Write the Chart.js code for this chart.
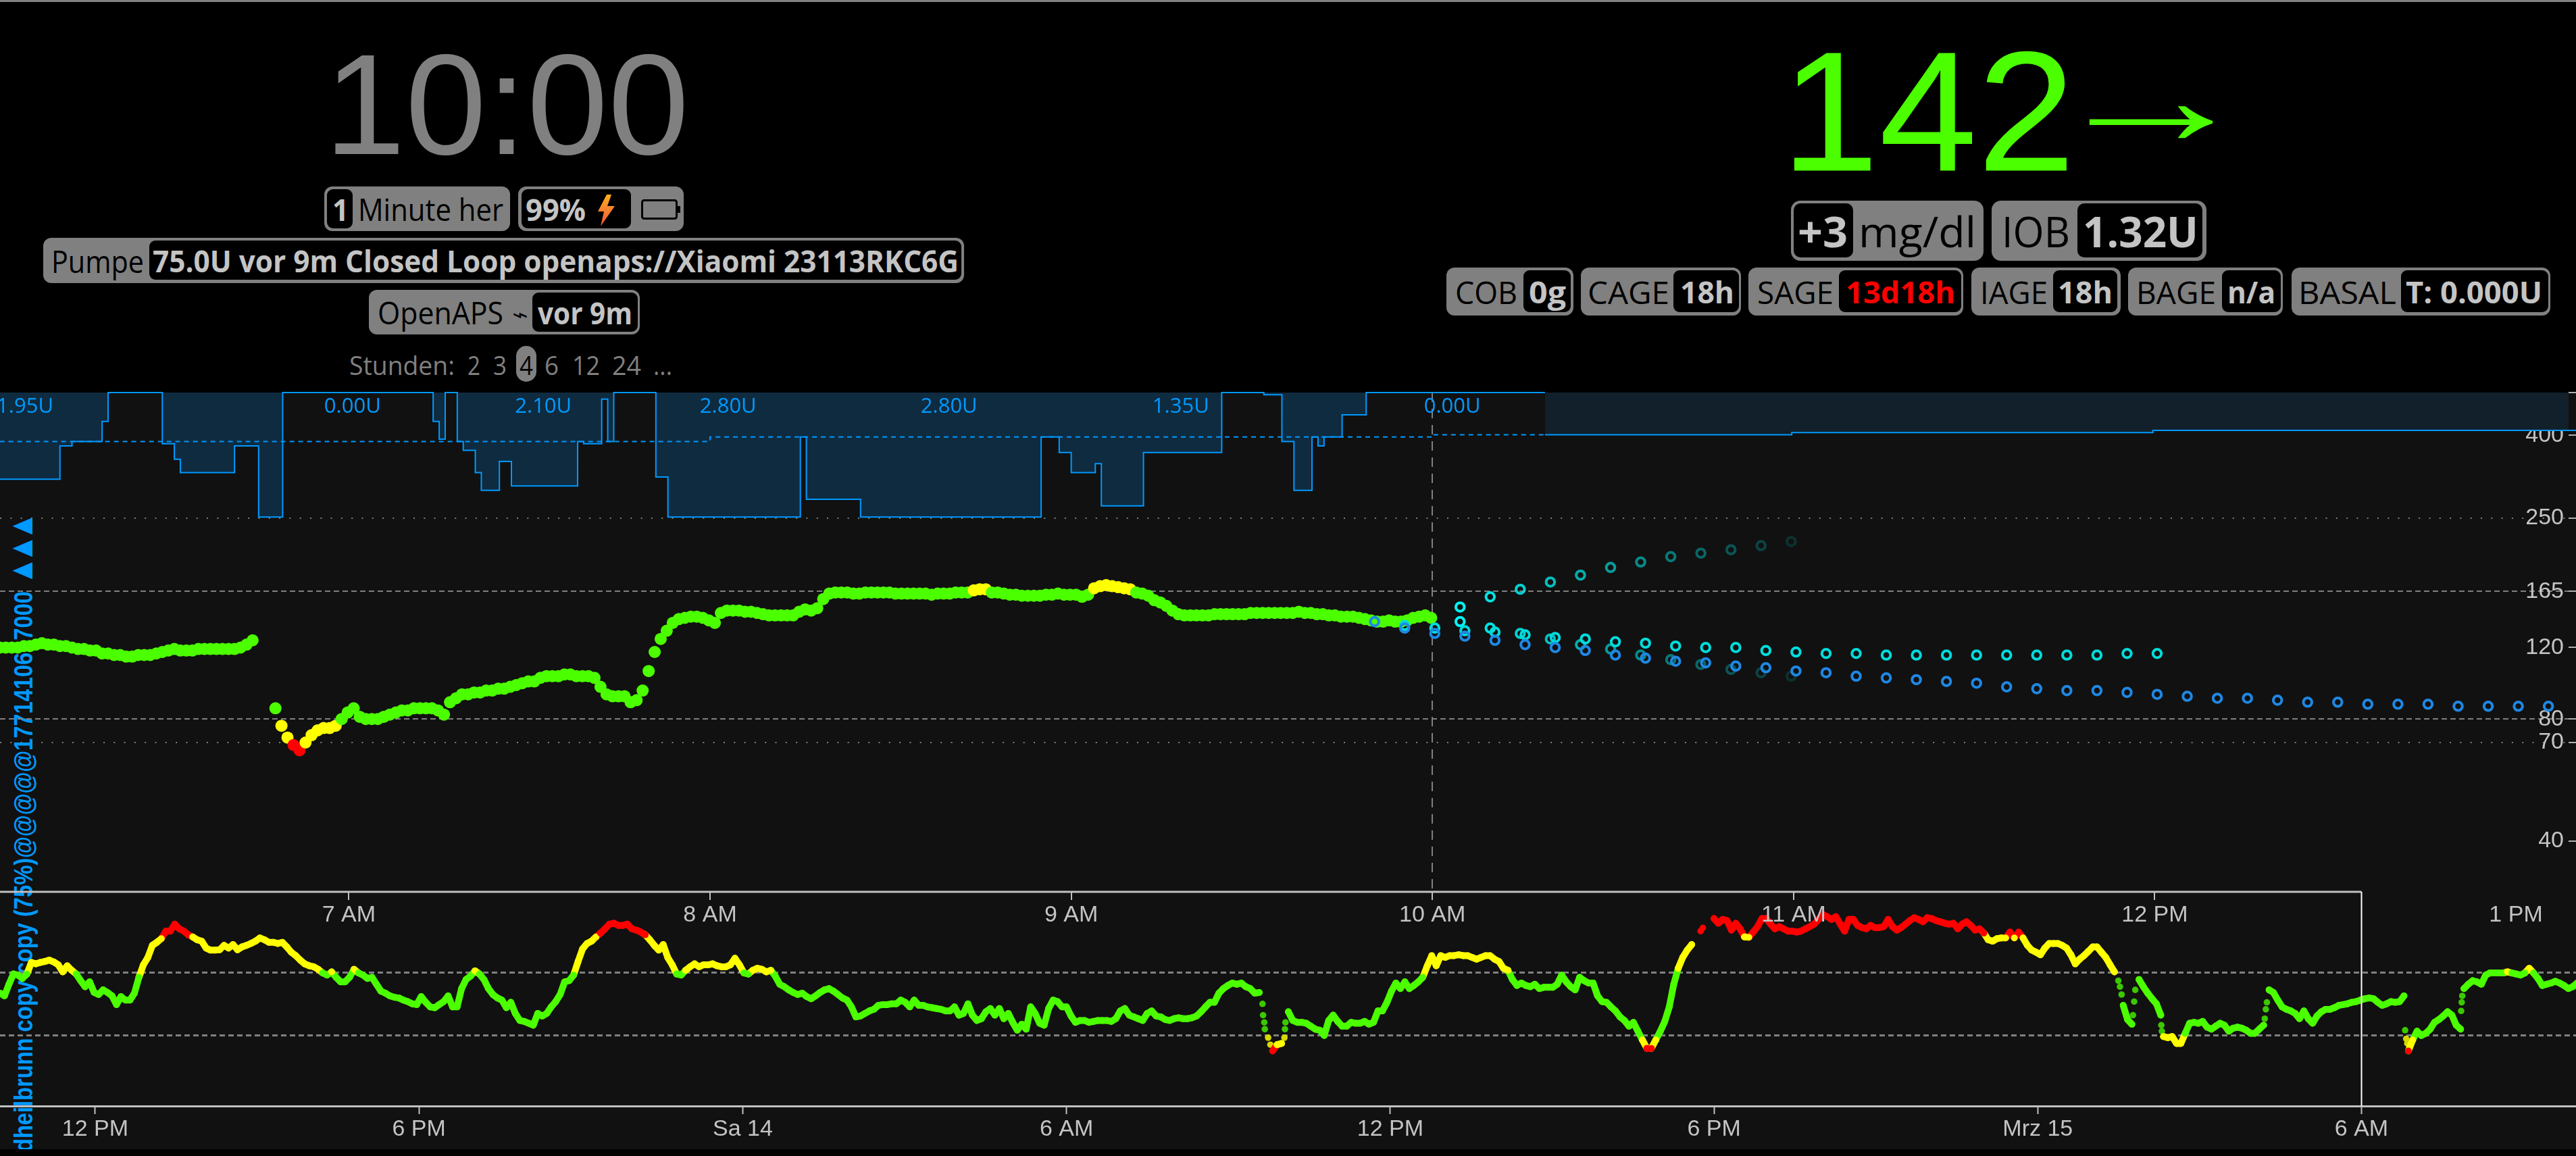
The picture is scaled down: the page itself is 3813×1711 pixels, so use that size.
<!DOCTYPE html>
<html><head><meta charset="utf-8">
<script src="https://cdn.jsdelivr.net/npm/chart.js@4"></script>
<style>
html,body{margin:0;padding:0;background:#000;width:3813px;height:1711px;overflow:hidden}
#topbar{position:absolute;left:0;top:0;width:3813px;height:3px;background:#808080}
#panel{position:absolute;left:0;top:581px;width:3813px;height:1120px;background:#111;overflow:hidden}
#vtext{position:absolute;left:0;top:0;white-space:pre;font:bold 38px "Liberation Sans";color:#0099ff;line-height:1}
#vtri{font-size:50px;line-height:0}
canvas{position:absolute;left:0}
.b{position:absolute;box-sizing:border-box}
.t{position:absolute;white-space:nowrap;line-height:1;transform-origin:left center}
</style></head><body>
<div id="topbar"></div>
<div id="panel"><div id="vtext"><span id="vmain">dheilbrunn copy copy (75%)@@@@@1771410617000 </span><span id="vtri">▲▲▲</span></div></div>
<canvas id="ctxChart" style="top:1310px" width="3813" height="401"></canvas>
<canvas id="mainChart" style="top:571px" width="3813" height="829"></canvas>
<div id="hdr"></div>
<script>
/* ---------- thresholds and colours ---------- */
const bgThresholds = [70, 80, 165, 250];
const bgColors = ['#ff0000', '#ffff00', '#4cff00', '#ffff00', '#ff0000'];

/* ---------- main chart axis ---------- */
const mainTickMinutes = [420, 480, 540, 600, 660, 720, 780];
const mainTickLabels = ['7 AM', '8 AM', '9 AM', '10 AM', '11 AM', '12 PM', '1 PM'];
const yTickValues = [40, 70, 80, 120, 165, 250, 400, 510];
const yDashed = [80, 165];
const yDotted = [70, 250];

/* ---------- glucose, one reading per minute ---------- */
const bgSeg1Start = 362.0;
const bgSeg1 = [120,120,120,120,121,121,122,123,122,122,121,121,120,119,119,118,118,116,116,115,115,114,114,115,115,115,116,117,118,119,118,118,118,119,119,119,119,119,119,119,120,122,125];
const bgSeg2Start = 407.8;
const bgSeg2 = [85,77,72,69,67,70,73,75,76,76,77,80,83,85,81,80,80,80,81,82,83,84,84,85,85,85,85,84,82,88,90,92,92,93,93,94,94,95,95,96,97,98,99,99,101,102,102,102,103,103,102,102,102,101,96,92,91,91,91,88,89,94,105,117,126,132,138,141,142,143,143,142,140,138,146,148,148,148,147,147,146,145,144,144,144,144,144,147,149,148,150,158,163,164,164,164,163,163,164,164,
164,164,164,163,163,163,163,163,163,162,163,163,163,164,164,164,166,167,167,164,164,163,162,162,161,161,161,161,162,162,163,162,162,162,160,162,168,170,171,170,169,168,167,164,163,161,157,155,152,148,145,144,144,144,144,144,145,145,145,145,145,145,146,146,146,146,146,146,146,146,147,146,146,145,145,144,144,143,143,143,142,141,140,139,139,140,139,139,140,142,143,144,142];

/* ---------- predictions, one per 5 minutes ---------- */
const predStep = 5;
const predBlueStart = 590.4;
const predBlue = [139,134,130,128,125,122,120,118,115,113,111,110,108,107,105,104,102,101,100,99,98,96,95,94,94,93,92,91,90,90,89,88,88,87,87,87,86,86,86,86,85];
const predCyanStart = 595.4;
const predCyan = [136,134,132,131,129,127,126,124,123,121,120,120,118,117,116,116,115,115,115,115,115,115,115,115,116,116];
const predRiseStart = 604.6;
const predRise = [151,160,167,174,181,189,195,201,205,209,214,219];
const predFall = [139,134,130,126,122,119,115,112,109,106,104,102];

/* ---------- basal, units per hour ---------- */
const basalMinutes = [362,372,374,379,380,389,391,392,401,405,409,434,435,436,438,439,441,442,445,447,458,459,462,463,464,471,473,495,496,505,535,538,540,544,545,552,565,572,575,577,580,581,582,585,589,618.7];
const basalRates = [1.95,1.2,1.1,.65,0,1.15,1.5,1.8,1.2,2.8,0,.65,1.05,0,1.1,1.3,1.8,2.2,1.55,2.1,1.1,1.15,.15,1.1,0,1.9,2.8,1,2.4,2.8,1,1.35,1.8,1.6,2.55,1.35,0,.05,1.1,2.2,1,1.2,1,.5,0,0];
const basalFutureMinutes = [618.7,659.7,719.7,800];
const basalFutureRates = [.95,.9,.85,.85];
const profileMinutes = [362,480,600,618.7];
const profileRates = [1.1,1,.95,.95];
const basalLabelMinutes = [366.2,420.6,452.3,483,519.7,558.2,603.3];
const basalLabelTexts = ['1.95U','0.00U','2.10U','2.80U','2.80U','1.35U','0.00U'];

/* ---------- context chart ---------- */
const ctxTickMinutes = [720,1080,1440,1800,2160,2520,2880,3240];
const ctxTickLabels = ['12 PM','6 PM','Sa 14','6 AM','12 PM','6 PM','Mrz 15','6 AM'];
const ctxLines = [80,165];
const stepA = 4.983, stepB = 4.84;
const ctxSegA = [130,126,144,162,160,154,162,185,182,185,187,190,186,180,166,178,169,162,150,140,148,131,128,135,131,126,114,125,120,120,130,156,180,196,225,233,243,265,265,287,272,265,254,248,240,236,218,213,213,214,225,218,227,214,221,225,230,236,245,240,233,233,230,233,221,208,200,190,182,178,176,171,164,160,166,156,148,148,156,171,164,160,154,156,144,133,130,126,124,123,120,118,115,114,125,117,111,110,114,118,126,111,111,137,152,158,168,162,152,137,128,123,120,110,117,103,95,94,92,90,103,100,103,111,118,128,148,150,160,187,216,230,236,248,259,272,287,290,283,283,287,272,268,262,254,240,225,213,227,196,180,162,160,169,176,182,176,180,180,182,178,176,176,180,194,180,164,162,169,173,171,166,169,158,144,140,135,131,128,130,125,122,126,131,135,137,133,128,123,120,111,99,100,103,106,108,
113,114,114,115,115,120,117,111,120,113,113,111,110,109,108,106,106,111,101,103,115,101,95,97,105,109,101,109,97,103,93,85,91,86,111,103,92,90,109,120,118,111,111,100,93,95,95,93,94,95,95,95,94,97,106,109,101,99,97,95,103,106,100,99,96,95,97,98,97,97,98,100,105,111,117,117,130,137,142,146,144,146,140,137,130,131];
const ctxSegC = [67,72,73];
const ctxSegB = [105,95,93,93,92,89,86,85,80,95,101,94,89,89,93,92,92,94,91,93,106,106,117,133,146,137,148,137,142,148,156,178,200,178,200,196,200,200,202,200,200,196,192,196,200,200,192,187,173,169,152,142,146,142,140,144,137,139,139,139,144,160,148,140,135,156,150,146,146,126,118,117,111,106,99,95,89,93,84,76,69,69,76,84,94,111,144,173,196,213,227];
const ctxSegD = [306,290,303,299,268,290,272,248,247,262,279,306,306,287,272,279,272,265,265,262,265,272,279,287,303,321,313,303,313,287,265,303,303,283,276,272,283,276,276,279,303,279,268,276,287,299,309,303,295,309,306,299,295,290,287,290,272,287,295,283,268,272,259,240,236,243,245,245,262,245,262,245,225,213,208,202,218,230,230,230,225,218,202,182,192,200,210,221,221,208,196,180,166];
const ctxSegE = [113,96,91];
const ctxSegF = [152,140,130,122,115,101];
const ctxSegG = [79,78,79,73,73,82,92,93,92,94,88,86,89,92,90,84,87,88,87,85,82,82,86,90];
const ctxSegH = [135,131,120,111,108,106,103,97,106,97,92,100,105,108,108,110,113,114,115,117,118,120,122,123,122,117,113,115,118,117,118,126];
const ctxSegI = [67,76,84,80,82,86,93,96,100,105,101,90,86];
const ctxSegJ = [137,144,150,148,144,160,164,164,164,164,166,164,162,160,164,173,164,154,142,144,146,149,146,142,137,140,146,152];
const ctxDotMinutes = [2018,2018.6,2019.9,2020.5,2024.2,2026.7,2042.3,2042.9,2043.5,2505.1,2507.6,2969.6,2971.4,2973.2,2985.9,2987.2,2988.4,3017.4,3018,3132.4,3133.6,3134.8,3288.5,3289.7,3290.9,3350.8,3351.4,3352];
const ctxDotValues = [115,101,93,86,78,72,78,86,93,265,275,150,140,128,101,118,135,90,84,97,108,117,85,77,73,106,117,126];

/* ---------- helpers ---------- */
function bgColor(v){let i=0;while(i<bgThresholds.length&&v>=bgThresholds[i])i++;return bgColors[i];}
function run(start,step,vals){return vals.map((v,i)=>({x:start+i*step,y:v}));}
function pairs(xs,ys){return xs.map((x,i)=>({x,y:ys[i]}));}
Chart.defaults.font.family='"Liberation Sans"';
Chart.defaults.font.size=34;
Chart.defaults.color='#c4c4c4';
const noPad=s=>{s.paddingLeft=0;s.paddingRight=0;s.paddingTop=0;s.paddingBottom=0;};

const bgDs=(data)=>({data,showLine:false,pointRadius:9,pointBorderWidth:0,pointBackgroundColor:c=>bgColor(c.parsed.y),yAxisID:'y'});
const ringDs=(data,color)=>({data,showLine:false,clip:false,pointRadius:6.3,pointBorderWidth:4,pointBackgroundColor:'transparent',pointBorderColor:color,yAxisID:'y'});
const fade=c=>`rgba(0,245,245,${Math.max(.12,1-c.dataIndex*.078)})`;
const basalClip={left:0,top:2,right:12,bottom:0};

const basalLabels={id:'basalLabels',afterDatasetsDraw(ch){
  const {ctx,scales:{x,basal}}=ch;ctx.save();ctx.font='31px "Open Sans"';ctx.fillStyle='#0099ff';ctx.textAlign='center';ctx.textBaseline='middle';
  basalLabelMinutes.forEach((m,i)=>ctx.fillText(basalLabelTexts[i],x.getPixelForValue(m),basal.getPixelForValue(.32)));ctx.restore();
}};

new Chart(document.getElementById('mainChart'),{type:'line',plugins:[basalLabels],
 data:{datasets:[
  ringDs(run(predBlueStart,predStep,predBlue),'#1e88e5'),
  ringDs(run(predCyanStart,predStep,predCyan),'#00dcdc'),
  ringDs(run(predRiseStart,predStep,predRise),fade),
  ringDs(run(predRiseStart,predStep,predFall),fade),
  bgDs(run(bgSeg1Start,1,bgSeg1)),
  bgDs(run(bgSeg2Start,1,bgSeg2)),
  {data:pairs(profileMinutes,profileRates),yAxisID:'basal',stepped:true,borderColor:'#0099ff',borderWidth:2,borderDash:[7,6],pointRadius:0,fill:false,clip:basalClip},
  {data:pairs(basalMinutes,basalRates),yAxisID:'basal',stepped:true,borderColor:'#0099ff',borderWidth:2,pointRadius:0,fill:{value:0},backgroundColor:'#0f2b40',clip:basalClip},
  {data:pairs(basalFutureMinutes,basalFutureRates),yAxisID:'basal',stepped:true,borderColor:'#0099ff',borderWidth:2,pointRadius:0,fill:{value:0},backgroundColor:'#12202b',clip:basalClip}
 ]},
 options:{responsive:false,devicePixelRatio:1,animation:false,events:[],
  layout:{autoPadding:false,padding:{top:10,left:0,right:0,bottom:0}},
  plugins:{legend:{display:false},tooltip:{enabled:false}},
  scales:{
   x:{type:'linear',min:362.04,max:788.75,position:'bottom',
     afterBuildTicks:s=>{s.ticks=mainTickMinutes.map(v=>({value:v}));},
     afterFit:s=>{s.height=80;noPad(s);},
     ticks:{autoSkip:false,maxRotation:0,padding:2,callback:v=>mainTickLabels[mainTickMinutes.indexOf(v)]},
     border:{display:false,dash:c=>c.tick&&c.tick.value===600?[14,10]:[]},
     grid:{lineWidth:2,tickLength:12,tickWidth:2,tickColor:c=>c.tick&&c.tick.value===780?'transparent':'#c0c0c0',color:c=>c.tick&&c.tick.value===600?'#808080':'transparent'}},
   y:{type:'logarithmic',min:30,max:510,position:'right',
     afterBuildTicks:s=>{s.ticks=yTickValues.map(v=>({value:v}));},
     afterFit:s=>{s.width=11;noPad(s);},
     ticks:{mirror:true,autoSkip:false,padding:-7,callback:v=>v===510?'':String(v)},
     border:{display:false,dash:c=>c.tick&&yDashed.includes(c.tick.value)?[8,5]:[2,13.3]},
     grid:{lineWidth:2,tickLength:11,tickWidth:2,tickColor:'#b0b0b0',color:c=>c.tick&&(yDashed.includes(c.tick.value)||yDotted.includes(c.tick.value))?'#808080':'transparent'}},
   basal:{type:'linear',min:0,max:11.23,reverse:true,display:false}
  }}
});

const ctxLine=(data)=>({data,borderWidth:10,tension:0,borderCapStyle:'round',borderJoinStyle:'round',
  borderColor:'#4cff00',segment:{borderColor:c=>bgColor((c.p0.parsed.y+c.p1.parsed.y)/2)},
  pointRadius:5,pointBorderWidth:0,pointBackgroundColor:c=>bgColor(c.parsed.y)});
new Chart(document.getElementById('ctxChart'),{type:'line',
 data:{datasets:[
  {data:[{x:3240,y:416},{x:3240,y:35.6}],borderColor:'#ffffff',borderWidth:2,pointRadius:0,clip:false},
  {data:[{x:614.1,y:416},{x:3240,y:416}],borderColor:'#c0c0c0',borderWidth:3,pointRadius:0,clip:false},
  ctxLine(run(614.1,stepA,ctxSegA)),
  ctxLine(run(2029.2,stepA,ctxSegC)),
  ctxLine(run(2046.7,stepA,ctxSegB)),
  ctxLine(run(2520,stepB,ctxSegD)),
  ctxLine(run(2975,stepB,ctxSegE)),
  ctxLine(run(2992.6,stepB,ctxSegF)),
  ctxLine(run(3019.8,stepB,ctxSegG)),
  ctxLine(run(3137.2,stepB,ctxSegH)),
  ctxLine(run(3292.1,stepB,ctxSegI)),
  ctxLine(run(3353.9,stepB,ctxSegJ)),
  {data:pairs(ctxDotMinutes,ctxDotValues),showLine:false,pointRadius:4.8,pointBorderWidth:0,pointBackgroundColor:c=>{const k=bgColor(c.parsed.y);return k==='#4cff00'?'#3cc800':k==='#ffff00'?'#d8d800':k;}}
 ]},
 options:{responsive:false,devicePixelRatio:1,animation:false,events:[],
  layout:{autoPadding:false,padding:{top:10,left:0,right:0,bottom:0}},
  plugins:{legend:{display:false},tooltip:{enabled:false}},
  scales:{
   x:{type:'linear',min:614.1,max:3478.5,position:'bottom',
     afterBuildTicks:s=>{s.ticks=ctxTickMinutes.map(v=>({value:v}));},
     afterFit:s=>{s.height=74;noPad(s);},
     ticks:{autoSkip:false,maxRotation:0,padding:2,callback:v=>ctxTickLabels[ctxTickMinutes.indexOf(v)]},
     border:{display:true,color:'#c0c0c0',width:3},
     grid:{drawOnChartArea:false,tickLength:12,tickWidth:2,tickColor:'#c0c0c0'}},
   y:{type:'logarithmic',min:35.6,max:416,position:'left',
     afterBuildTicks:s=>{s.ticks=ctxLines.map(v=>({value:v}));},
     afterFit:s=>{s.width=0;noPad(s);},
     ticks:{display:false},
     border:{display:false,dash:[8,5]},
     grid:{drawTicks:false,lineWidth:3,color:'#808080'}}
  }}
});

/* ---------- rotated label ---------- */
(function(){const v=document.getElementById('vtext');
 const main=document.getElementById('vmain'),tri=document.getElementById('vtri');
 const sx=839/main.getBoundingClientRect().width;
 const adv=tri.getBoundingClientRect().width/3;
 tri.style.letterSpacing=(33/sx-adv)+'px';
 v.style.transformOrigin='0 0';
 v.style.transform=`translate(16px,${1705-581}px) rotate(-90deg) scaleX(${sx})`;})();

/* ---------- header (text kept real) ---------- */
const hdr=document.getElementById('hdr');
const OS='"Open Sans"',LS='"Liberation Sans"';
function box(x0,x1,y0,y1,bg,r){const d=document.createElement('div');d.className='b';d.style.cssText=`left:${x0}px;top:${y0}px;width:${x1-x0}px;height:${y1-y0}px;background:${bg};border-radius:${r}px`;hdr.appendChild(d);}
function txt(x0,x1,yc,s,size,weight,color,font){const d=document.createElement('div');d.className='t';d.textContent=s;
 d.style.cssText=`left:${x0}px;top:${yc}px;font:${weight} ${size}px ${font||OS};color:${color};line-height:1`;hdr.appendChild(d);
 const w=d.getBoundingClientRect().width;d.style.transform=`translateY(-50%) scaleX(${(x1-x0)/w})`;}
const G='#808080',K='#000',S='#c4c4c4';
txt(480,1020,155,'10:00',212,'400',G,LS);
txt(2636,3072,165,'142',253,'400','#4cff00',LS);
txt(3030,3338,145,'→',200,'400','#4cff00',LS);
box(480,755,276,342,G,12);box(484,522,280,338,K,9);txt(492,516,309,'1',45,'700',S);txt(530,745,309,'Minute her',45,'400',K);
box(767,1012,276,342,G,12);box(772,934,280,338,K,9);txt(778,867,309,'99%',45,'700',S);
box(64,1427,352,419,G,12);box(221,1423,356,414,K,9);txt(76,213,386,'Pumpe',45,'400',K);txt(226,1419,385,'75.0U vor 9m Closed Loop openaps://Xiaomi 23113RKC6G',45,'700',S);
box(546,947,429,495,G,12);box(788,944,433,491,K,9);txt(559,745,462,'OpenAPS',45,'400',K);txt(758,782,466,'⌁',30,'400',K,'"DejaVu Sans"');txt(796,936,462,'vor 9m',45,'700',S);
/* hour switch */
box(764,794,512,565,G,15);
[[517,673,'Stunden:'],[692,711,'2'],[730,750,'3'],[806,827,'6'],[847,888,'12'],[906,949,'24'],[967,995,'...']].forEach(a=>txt(a[0],a[1],540,a[2],38,'400',G));
txt(769,789,540,'4',38,'400',K);
/* right side */
box(2651,2936,297,386,G,14);box(2655,2743,301,381,K,10);txt(2661,2735,342,'+3',62,'700',S);txt(2751,2925,342,'mg/dl',62,'400',K);
box(2948,3266,297,386,G,14);box(3075,3260,301,381,K,10);txt(2963,3064,342,'IOB',62,'400',K);txt(3083,3254,342,'1.32U',62,'700',S);
[[2141,2329,2255,2325,'COB',2154,2246,'0g',2263,2318,S],[2340,2577,2477,2574,'CAGE',2350,2471,'18h',2487,2567,S],[2588,2906,2722,2903,'SAGE',2601,2714,'13d18h',2732,2894,'#ff0000'],[2918,3139,3039,3134,'IAGE',2931,3031,'18h',3046,3127,S],[3150,3379,3289,3376,'BAGE',3162,3280,'n/a',3297,3368,S],[3392,3775,3554,3772,'BASAL',3402,3547,'T: 0.000U',3561,3763,S]].forEach(a=>{
 box(a[0],a[1],396,467,G,12);box(a[2],a[3],400,462,K,9);txt(a[5],a[6],432,a[4],45,'400',K);txt(a[8],a[9],431,a[7],45,'700',a[10]);});
/* charging bolt and battery */
hdr.insertAdjacentHTML('beforeend',`<svg style="position:absolute;left:880px;top:288px" width="60" height="48" viewBox="0 0 60 48"><defs><linearGradient id="g" x1="0" y1="0" x2="0" y2="1"><stop offset="0" stop-color="#ffb020"/><stop offset="1" stop-color="#f0503c"/></linearGradient></defs><polygon points="18,0 5,25 14,25 9,47 30,17 19,17 25,0" fill="url(#g)"/></svg>
<svg style="position:absolute;left:949px;top:295px" width="60" height="30" viewBox="0 0 60 30"><rect x="1.5" y="1.5" width="51" height="27" rx="3" fill="none" stroke="#000" stroke-width="3"/><rect x="53" y="10" width="5" height="10" fill="#000"/></svg>`);
</script>
</body></html>
